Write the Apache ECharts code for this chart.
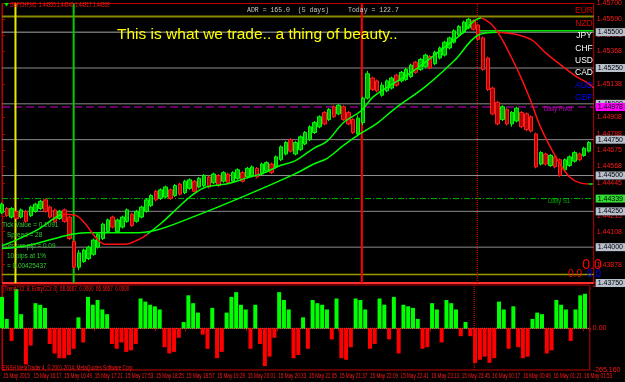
<!DOCTYPE html>
<html><head><meta charset="utf-8">
<script src="https://cdn.jsdelivr.net/npm/echarts@6/dist/echarts.min.js"></script>
<style>html,body{margin:0;padding:0;background:#000;}#c{width:625px;height:382px;}</style>
</head><body><div id="c"></div>
<script>
// ---- time axis (minutes from 15 May 15:45, M1 chart) ----
const timeLabels = ['15 May 2015','15 May 16:17','15 May 16:49','15 May 17:21','15 May 17:53','15 May 18:25','15 May 18:57','15 May 19:29','15 May 20:01','15 May 20:33','15 May 21:05','15 May 21:37','15 May 22:09','15 May 22:41','15 May 23:13','15 May 23:45','16 May 00:17','16 May 00:49','16 May 01:21','16 May 01:53'];
const labelStepMin = 32;
const barStepMin = 5;
const xEnd = 615;

// ---- price axis ----
const priceAxisTicks = [1.45700,1.45590,1.45478,1.45368,1.45138,1.44908,1.44788,1.44675,1.44568,1.44445,1.44215,1.44108,1.43878];
const roundLevels = [1.45500,1.45250,1.45000,1.44750,1.44500,1.44250,1.44000];
const baseLevel = 1.43750;
const pivotLevel = 1.44978;
const s1Level = 1.44339;
const oliveTop = 1.4561;
const oliveBottom = 1.4381;
const highLevel = 1.4551;

// ---- vertical markers (minutes) ----
const vYellow = 14, vGreen = 74.5, vRed = 374, vRedDot = 494, highLevelFrom = 494;

// ---- candles every 5 minutes [open, close, low, high] ----
const candles = [
[1.4424,1.4430,1.4423,1.4431],[1.4427,1.4422,1.4421,1.4428],[1.4421,1.4427,1.4420,1.4428],[1.4425,1.4420,1.4419,1.4426],
[1.4421,1.4426,1.4420,1.4427],[1.4425,1.4418,1.4417,1.4426],[1.4422,1.4428,1.4421,1.4429],[1.4425,1.4430,1.4424,1.4431],
[1.4427,1.4432,1.4426,1.4433],[1.4433,1.4425,1.4424,1.4434],[1.4428,1.4421,1.4420,1.4429],[1.4426,1.4418,1.4417,1.4427],
[1.4420,1.4425,1.4419,1.4426],[1.4426,1.4418,1.4417,1.4427],[1.4421,1.4406,1.4405,1.4422],[1.4404,1.4386,1.4385,1.4405],
[1.4386,1.4396,1.4384,1.4398],[1.4390,1.4398,1.4389,1.4399],[1.4392,1.4400,1.4391,1.4401],[1.4395,1.4405,1.4394,1.4406],
[1.4400,1.4409,1.4399,1.4410],[1.4406,1.4416,1.4405,1.4417],[1.4411,1.4419,1.4410,1.4420],[1.4421,1.4414,1.4413,1.4422],
[1.4411,1.4419,1.4410,1.4420],[1.4414,1.4421,1.4413,1.4422],[1.4418,1.4426,1.4417,1.4427],[1.4423,1.4415,1.4414,1.4424],
[1.4418,1.4425,1.4417,1.4426],[1.4421,1.4428,1.4420,1.4429],[1.4425,1.4433,1.4424,1.4434],[1.4429,1.4436,1.4428,1.4437],
[1.4439,1.4433,1.4432,1.4440],[1.4434,1.4440,1.4433,1.4441],[1.4435,1.4442,1.4434,1.4443],[1.4440,1.4434,1.4433,1.4441],
[1.4436,1.4443,1.4435,1.4444],[1.4444,1.4437,1.4436,1.4445],[1.4438,1.4446,1.4437,1.4447],[1.4441,1.4447,1.4440,1.4448],
[1.4446,1.4439,1.4438,1.4447],[1.4442,1.4448,1.4441,1.4449],[1.4443,1.4450,1.4442,1.4451],[1.4449,1.4442,1.4441,1.4450],
[1.4445,1.4451,1.4444,1.4452],[1.4450,1.4443,1.4442,1.4451],[1.4446,1.4452,1.4445,1.4453],[1.4451,1.4445,1.4444,1.4452],
[1.4446,1.4452,1.4445,1.4453],[1.4448,1.4454,1.4447,1.4455],[1.4452,1.4446,1.4445,1.4453],[1.4449,1.4455,1.4448,1.4456],
[1.4450,1.4456,1.4449,1.4457],[1.4455,1.4449,1.4448,1.4456],[1.4451,1.4458,1.4450,1.4459],[1.4453,1.4459,1.4452,1.4460],
[1.4458,1.4452,1.4451,1.4459],[1.4456,1.4463,1.4455,1.4464],[1.4461,1.4470,1.4460,1.4471],[1.4465,1.4473,1.4464,1.4474],
[1.4475,1.4467,1.4466,1.4476],[1.4465,1.4473,1.4464,1.4474],[1.4468,1.4477,1.4467,1.4478],[1.4472,1.4480,1.4471,1.4481],
[1.4475,1.4484,1.4474,1.4485],[1.4480,1.4487,1.4479,1.4488],[1.4484,1.4491,1.4483,1.4492],[1.4494,1.4486,1.4485,1.4495],
[1.4489,1.4496,1.4488,1.4497],[1.4498,1.4491,1.4490,1.4499],[1.4493,1.4499,1.4492,1.4500],[1.4498,1.4489,1.4488,1.4499],
[1.4494,1.4486,1.4485,1.4495],[1.4489,1.4480,1.4479,1.4490],[1.4479,1.4490,1.4478,1.4492],[1.4487,1.4504,1.4485,1.4505],
[1.4504,1.4521,1.4503,1.4523],[1.4518,1.4510,1.4509,1.4519],[1.4516,1.4509,1.4508,1.4517],[1.4506,1.4513,1.4505,1.4515],
[1.4509,1.4516,1.4508,1.4517],[1.4511,1.4518,1.4510,1.4519],[1.4520,1.4513,1.4512,1.4521],[1.4516,1.4522,1.4515,1.4523],
[1.4517,1.4524,1.4516,1.4525],[1.4519,1.4527,1.4518,1.4528],[1.4529,1.4522,1.4521,1.4530],[1.4524,1.4531,1.4523,1.4532],
[1.4526,1.4534,1.4525,1.4535],[1.4533,1.4525,1.4524,1.4534],[1.4528,1.4536,1.4527,1.4537],[1.4532,1.4539,1.4531,1.4540],
[1.4534,1.4543,1.4533,1.4544],[1.4539,1.4546,1.4538,1.4547],[1.4543,1.4551,1.4542,1.4552],[1.4548,1.4554,1.4547,1.4555],
[1.4550,1.4557,1.4549,1.4558],[1.4553,1.4559,1.4552,1.4560],[1.4558,1.4552,1.4551,1.4559],[1.4555,1.4545,1.4544,1.4556],
[1.4546,1.4524,1.4523,1.4547],[1.4532,1.4510,1.4509,1.4533],[1.4511,1.4493,1.4492,1.4512],[1.4501,1.4486,1.4485,1.4502],
[1.4489,1.4498,1.4488,1.4499],[1.4496,1.4486,1.4485,1.4497],[1.4486,1.4494,1.4484,1.4495],[1.4488,1.4497,1.4487,1.4498],
[1.4494,1.4484,1.4483,1.4495],[1.4493,1.4482,1.4481,1.4494],[1.4491,1.4481,1.4480,1.4492],[1.4479,1.4456,1.4455,1.4480],
[1.4458,1.4466,1.4457,1.4467],[1.4465,1.4458,1.4457,1.4466],[1.4457,1.4464,1.4456,1.4465],[1.4463,1.4456,1.4455,1.4464],
[1.4461,1.4450,1.4449,1.4462],[1.4454,1.4461,1.4453,1.4462],[1.4457,1.4463,1.4456,1.4464],[1.4460,1.4466,1.4459,1.4467],
[1.4465,1.4461,1.4460,1.4466],[1.4464,1.4469,1.4463,1.4470],[1.4467,1.4473,1.4466,1.4474]
];

// ---- moving averages [minute, price], split by colour ----
const fastUpA = [[0,1.4401],[18,1.4406],[39,1.4413],[54,1.4420],[62,1.4423]];
const fastDownA = [[62,1.4423],[77,1.4422],[87,1.4416],[97,1.4407],[107,1.4402],[128,1.4402],[141,1.4405],[151,1.4409]];
const fastUpB = [[151,1.4409],[166,1.4417],[182,1.4427],[197,1.4436],[212,1.4442],[233,1.4444],[253,1.4448],[273,1.4452],[289,1.4457],[304,1.4460],[324,1.4469],[338,1.4474],[355,1.4487],[373,1.4495],[386,1.4505],[406,1.4514],[416,1.4518],[434,1.4526],[457,1.4538],[478,1.4549],[491,1.4558],[498,1.4560]];
const fastDownB = [[498,1.4560],[508,1.4556],[518,1.4547],[529,1.4533],[539,1.4519],[549,1.4503],[559,1.4485],[569,1.4471],[580,1.4458],[590,1.4449],[600,1.4445],[610,1.4444]];
const fastUpC = [[610,1.4444],[614,1.4444]];
const slowUp = [[0,1.4399],[26,1.4401],[66,1.4408],[87,1.4410],[134,1.4410],[161,1.4412],[202,1.4422],[253,1.4436],[304,1.4451],[324,1.4458],[338,1.4462],[355,1.4471],[372,1.4479],[389,1.4486],[409,1.4497],[440,1.4512],[470,1.4530],[495,1.4548],[515,1.4550]];
const slowDown = [[515,1.4550],[529,1.4549],[542,1.4547],[552,1.4544],[566,1.4535],[583,1.4526],[597,1.4519],[610,1.4514],[615,1.4511]];

// ---- CCI histogram every 5 minutes ----
const cciAxisTicks = [275.6783, 0, -265.160];
const cciAxisText = ['275.6783','0.00','-265.160'];
const cci = [200,60,-80,250,90,-230,-110,160,150,130,-100,-160,-190,-190,-170,-130,70,-90,200,150,180,120,90,-100,-130,-90,-150,-140,-100,190,170,150,140,120,-120,-160,-150,-60,40,210,160,100,-40,-130,130,-190,-150,100,200,230,150,120,-130,150,-100,-240,-180,-60,230,180,120,-190,-170,70,-130,180,160,150,120,-70,190,-190,-200,-120,190,180,120,-130,-100,190,150,-70,200,-160,150,140,130,60,-130,-120,160,120,-90,180,160,120,-50,40,-50,-220,-200,-180,-220,-190,170,120,-130,140,-120,-190,-180,60,100,90,-160,-140,180,150,120,-80,120,210,220];

const RED = '#ff1a1a';
const SANS = "'Liberation Sans',Arial,sans-serif";
const NARROW_SCALE = 0.66;
const PMIN = 1.4375, PMAX = 1.4570;

const chart = echarts.init(document.getElementById('c'), null, {renderer: 'canvas'});

function lineSeries(data, color) {
  return {type: 'line', xAxisIndex: 0, yAxisIndex: 0, data: data, showSymbol: false, smooth: 0.35,
    lineStyle: {color: color, width: 1.5}, silent: true, z: 5};
}
// horizontal level drawn as a two-point line across the time axis, optional price box at the right end
function level(v, color, width, type, box, from) {
  const s = {type: 'line', xAxisIndex: 0, yAxisIndex: 0, data: [[from || 0, v], [xEnd, v]], showSymbol: false,
    silent: true, z: 2, lineStyle: {color: color, width: width, type: type || 'solid'}};
  if (box) {
    s.endLabel = {show: true, formatter: () => v.toFixed(5), backgroundColor: box, color: '#000', fontSize: 7,
      fontFamily: SANS, padding: [1, 2, 0, 2], distance: 2};
  }
  return s;
}
function vline(v, color, width, type, axisIndex, lo, hi) {
  return {type: 'line', xAxisIndex: axisIndex, yAxisIndex: axisIndex, data: [[v, lo], [v, hi]], showSymbol: false,
    silent: true, z: 3, lineStyle: {color: color, width: width, type: type || 'solid'}};
}

const texts = [];
function txt(x, y, s, color, font, align, sx) {
  texts.push({type: 'text', x: x, y: y, silent: true, z: 100, scaleX: sx || 1,
    style: {text: s, fill: color, font: font, align: align || 'left', verticalAlign: 'middle'}});
}
const small = '7px ' + SANS;
txt(10, 5, 'GBPCHF,M1  1.44335 1.44340 1.44317 1.44339', RED, small, 'left', NARROW_SCALE);
txt(247, 10.5, 'ADR = 165.0  (5 days)', '#c8c8c8', "7px 'Liberation Mono',monospace", 'left', 0.93);
txt(348, 10.5, 'Today = 122.7', '#c8c8c8', "7px 'Liberation Mono',monospace", 'left', 0.93);
txt(117, 35, 'This is what we trade.. a thing of beauty..', '#ffff00', '15.5px ' + SANS);
const ccy = [['EUR','#e00000'],['NZD','#e00000'],['JPY','#ffffff'],['CHF','#ffffff'],['USD','#ffffff'],['CAD','#ffffff'],['AUD','#0000ff'],['GBP','#0000ff']];
ccy.forEach((c, i) => txt(584, 11 + i * 12.4, c[0], c[1], '8.5px ' + SANS, 'center'));
txt(544, 109, 'Daily Pivot', '#d000d0', small, 'left', 0.85);
txt(548, 201, 'Daily S1', '#00b000', small, 'left', 0.85);
const stats = [['Tick Value = 0.1091', 2], ['Spread = 28', 7], ['Lots per pip = 0.09', 2], ['10 pips at 1%', 7], ['= 0.00425437', 7]];
stats.forEach((s, i) => txt(s[1], 225 + i * 10.3, s[0], '#33cc33', small, 'left', 0.92));
txt(592, 265, '0.0', '#ff0000', '14px ' + SANS, 'center');
txt(575, 274, '0.0', '#ff0000', '10px ' + SANS, 'center');
txt(594, 274, '0.0', '#0000ff', '10px ' + SANS, 'center');
txt(3, 289, '(TrendCCI: 8, EntryCCI: 0)  66.6667  0.0000  66.6667  0.0000', RED, small, 'left', NARROW_SCALE);
txt(3, 368, 'ENSH MetaTrader 4, \u00a9 2001-2014, MetaQuotes Software Corp.', RED, small, 'left', NARROW_SCALE);
texts.push({type: 'polygon', silent: true, z: 100, shape: {points: [[4, 3], [9, 3], [6.5, 6.5]]}, style: {fill: '#00e000'}});

const levelSeries = [
  level(roundLevels[0], '#a8a8a8', 1, 'solid', '#b8c0cc'),
  level(roundLevels[1], '#8c8c8c', 1, 'solid', '#b8c0cc'),
  level(roundLevels[2], '#8c8c8c', 1, 'solid', '#b8c0cc'),
  level(roundLevels[3], '#8c8c8c', 1, 'solid', '#b8c0cc'),
  level(roundLevels[4], '#8c8c8c', 1, 'solid', '#b8c0cc'),
  level(roundLevels[5], '#8c8c8c', 1, 'solid', '#b8c0cc'),
  level(roundLevels[6], '#8c8c8c', 1, 'solid', '#b8c0cc'),
  level(baseLevel, '#ff3030', 2, 'solid', '#b8c0cc'),
  level(pivotLevel, '#d000d0', 1, [8, 4], '#ff00ff'),
  level(s1Level, '#00b000', 1, [6, 2, 1, 2], '#33dd33'),
  level(oliveTop, '#8a8a00', 2),
  level(oliveBottom, '#9a9a00', 1.5),
  level(highLevel, '#00e000', 1.5, 'solid', null, highLevelFrom),
  vline(vYellow, '#e8e800', 2, 'solid', 0, PMIN, PMAX),
  vline(vGreen, '#00cc00', 2, 'solid', 0, PMIN, PMAX),
  vline(vRed, '#ff0000', 2, 'solid', 0, PMIN, PMAX),
  vline(vRedDot, '#ff0000', 1, 'dotted', 0, PMIN, PMAX),
  vline(vRedDot, '#ff0000', 1, 'dotted', 1, -265.160, 275.6783),
  {type: 'line', xAxisIndex: 1, yAxisIndex: 1, data: [[0, 0], [xEnd, 0]], showSymbol: false, silent: true, z: 1,
    lineStyle: {color: '#909090', width: 1, type: 'dotted'}}
];

const option = {
  backgroundColor: '#000',
  animation: false,
  grid: [
    {left: 2, top: 2, width: 603, height: 281, show: true, borderColor: '#c00000', borderWidth: 1, backgroundColor: 'transparent'},
    {left: 2, top: 285, width: 603, height: 85, show: true, borderColor: '#c00000', borderWidth: 1, backgroundColor: 'transparent'}
  ],
  xAxis: [
    {type: 'value', gridIndex: 0, min: 0, max: xEnd, show: false},
    {type: 'value', gridIndex: 1, min: 0, max: xEnd, interval: labelStepMin, position: 'bottom',
      axisLine: {show: true, lineStyle: {color: '#c00000'}},
      axisTick: {show: true, length: 3, lineStyle: {color: '#c00000'}},
      splitLine: {show: false},
      axisLabel: {show: false}}
  ],
  yAxis: [
    {type: 'value', gridIndex: 0, min: PMIN, max: PMAX, position: 'right',
      axisLine: {show: true, lineStyle: {color: '#c00000'}},
      axisTick: {show: true, length: 3, lineStyle: {color: '#c00000'}, customValues: priceAxisTicks},
      splitLine: {show: false},
      axisLabel: {color: RED, fontSize: 7, fontFamily: SANS, margin: 3, customValues: priceAxisTicks,
        formatter: v => v.toFixed(5)}},
    {type: 'value', gridIndex: 1, min: -265.160, max: 275.6783, position: 'right',
      axisLine: {show: true, lineStyle: {color: '#c00000'}},
      axisTick: {show: true, length: 3, lineStyle: {color: '#c00000'}, customValues: cciAxisTicks},
      splitLine: {show: false},
      axisLabel: {color: RED, fontSize: 7, fontFamily: SANS, margin: 3, customValues: cciAxisTicks,
        formatter: v => { const k = cciAxisTicks.indexOf(v); return k >= 0 ? cciAxisText[k] : String(v); }}}
  ],
  series: levelSeries.concat([
    {type: 'candlestick', xAxisIndex: 0, yAxisIndex: 0, barWidth: 4,
      data: candles.map((d, i) => [i * barStepMin, d[0], d[1], d[2], d[3]]),
      encode: {x: 0, y: [1, 2, 3, 4]},
      itemStyle: {color: '#00b000', color0: '#b00000', borderColor: '#00ff00', borderColor0: '#ff2020', borderWidth: 1},
      z: 4, silent: true
    },
    lineSeries(slowUp, '#00ff00'),
    lineSeries(slowDown, '#ff1010'),
    lineSeries(fastUpA, '#00ff00'),
    lineSeries(fastDownA, '#ff1010'),
    lineSeries(fastUpB, '#00ff00'),
    lineSeries(fastDownB, '#ff1010'),
    lineSeries(fastUpC, '#00ff00'),
    {type: 'bar', xAxisIndex: 1, yAxisIndex: 1, barWidth: 4, silent: true, z: 2,
      data: cci.map((v, i) => [i * barStepMin, v]),
      itemStyle: {color: p => (p.value[1] >= 0 ? '#00ff00' : '#ff0000')}
    }
  ]),
  graphic: texts
};
chart.setOption(option);

// date labels positioned through the time axis, drawn condensed like the terminal font
const dateTexts = timeLabels.map((s, i) => {
  const px = chart.convertToPixel({xAxisIndex: 1}, i * labelStepMin);
  return {type: 'text', x: px + 1, y: 376, silent: true, z: 100, scaleX: NARROW_SCALE,
    style: {text: s, fill: RED, font: small, align: 'left', verticalAlign: 'middle'}};
});
chart.setOption({graphic: texts.concat(dateTexts)});
</script>
</body></html>
